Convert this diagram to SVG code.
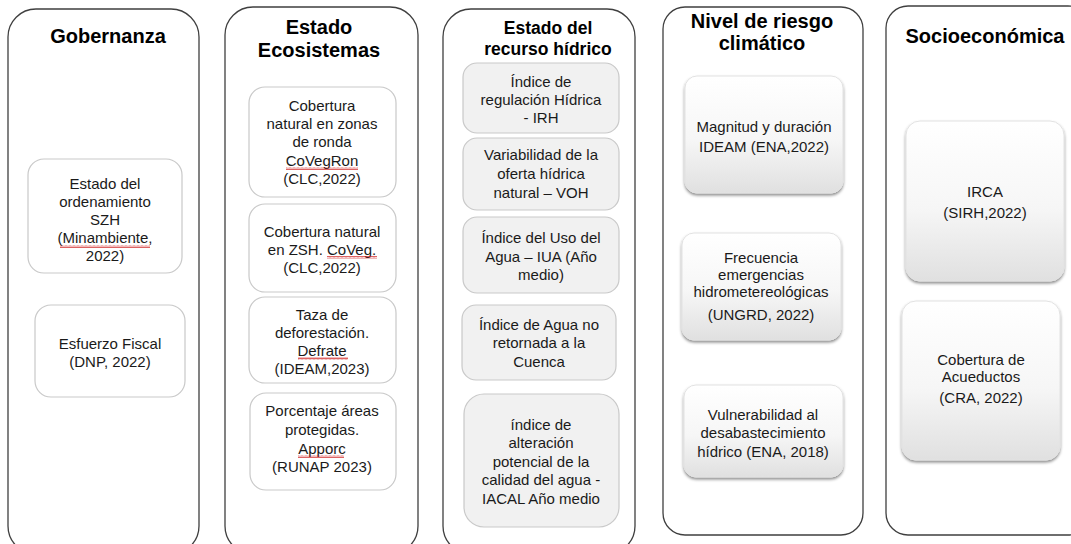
<svg xmlns="http://www.w3.org/2000/svg" width="1071" height="544" viewBox="0 0 1071 544">
<style>
.col{fill:#ffffff;stroke:#3f3f3f;stroke-width:1.3}
.wbox{fill:#ffffff;stroke:#c9c9c9;stroke-width:1.2}
.gbox{fill:#f1f1f1;stroke:#c9c9c9;stroke-width:1.2}
.sbox{fill:url(#grad);stroke:#e2e2e2;stroke-width:1;filter:url(#shadow)}
.title{font-family:"Liberation Sans",Arial,sans-serif;font-weight:bold;font-size:20px;fill:#000;text-anchor:middle}
.t3{font-size:17.5px}
.body{font-family:"Liberation Sans",Arial,sans-serif;font-size:15px;fill:#1a1a1a;text-anchor:middle}
.sq{fill:url(#squig)}
</style>
<defs>
<linearGradient id="grad" x1="0" y1="0" x2="0" y2="1">
<stop offset="0" stop-color="#ffffff"/>
<stop offset="0.55" stop-color="#f6f6f6"/>
<stop offset="1" stop-color="#e0e0e0"/>
</linearGradient>
<filter id="shadow" x="-10%" y="-10%" width="120%" height="130%">
<feDropShadow dx="0" dy="2" stdDeviation="1.8" flood-color="#000" flood-opacity="0.45"/>
</filter>
<pattern id="squig" x="0" y="0" width="4" height="3" patternUnits="userSpaceOnUse">
<polyline points="0,2.5 1,0.5 2,2.5 3,0.5 4,2.5" fill="none" stroke="#d02020" stroke-width="0.7"/>
</pattern>
</defs>

<g id="col-gobernanza">
<rect class="col" x="8" y="9" width="191" height="545" rx="28"/>
<text class="title" x="108" y="43">Gobernanza</text>
</g>
<g id="node-ordenamiento">
<rect class="wbox" x="28" y="159" width="154" height="114" rx="16"/>
<text class="body" x="105" y="189">Estado del</text>
<text class="body" x="105" y="207">ordenamiento</text>
<text class="body" x="105" y="225">SZH</text>
<text class="body" x="105" y="243">(Minambiente,</text>
<text class="body" x="105" y="261">2022)</text>
<rect class="sq" x="60" y="245" width="90" height="3"/>
</g>
<g id="node-esfuerzo">
<rect class="wbox" x="35" y="305" width="150" height="92" rx="16"/>
<text class="body" x="110" y="349">Esfuerzo Fiscal</text>
<text class="body" x="110" y="367">(DNP, 2022)</text>
</g>

<g id="col-ecosistemas">
<rect class="col" x="225" y="7" width="193" height="547" rx="28"/>
<text class="title" x="319" y="34">Estado</text>
<text class="title" x="319" y="57">Ecosistemas</text>
</g>
<g id="node-covegron">
<rect class="wbox" x="249" y="87" width="147" height="110" rx="16"/>
<text class="body" x="322" y="111">Cobertura</text>
<text class="body" x="322" y="129">natural en zonas</text>
<text class="body" x="322" y="147">de ronda</text>
<text class="body" x="322" y="166">CoVegRon</text>
<text class="body" x="322" y="184">(CLC,2022)</text>
<rect class="sq" x="286" y="167" width="72" height="3"/>
</g>
<g id="node-coveg">
<rect class="wbox" x="249" y="204" width="147" height="88" rx="16"/>
<text class="body" x="322" y="237">Cobertura natural</text>
<text class="body" x="322" y="255">en ZSH. CoVeg.</text>
<text class="body" x="322" y="273">(CLC,2022)</text>
<rect class="sq" x="327" y="256" width="50" height="3"/>
</g>
<g id="node-defrate">
<rect class="wbox" x="249" y="297" width="147" height="86" rx="16"/>
<text class="body" x="322" y="320">Taza de</text>
<text class="body" x="322" y="338">deforestación.</text>
<text class="body" x="322" y="356">Defrate</text>
<text class="body" x="322" y="374">(IDEAM,2023)</text>
<rect class="sq" x="298" y="357" width="50" height="3"/>
</g>
<g id="node-apporc">
<rect class="wbox" x="250" y="393" width="146" height="97" rx="16"/>
<text class="body" x="322" y="416">Porcentaje áreas</text>
<text class="body" x="322" y="435">protegidas.</text>
<text class="body" x="322" y="454">Apporc</text>
<text class="body" x="322" y="472">(RUNAP 2023)</text>
<rect class="sq" x="298" y="455" width="46" height="3"/>
</g>

<g id="col-hidrico">
<rect class="col" x="443" y="9" width="192" height="545" rx="28"/>
<text class="title t3" x="548" y="34">Estado del</text>
<text class="title t3" x="548" y="55">recurso hídrico</text>
</g>
<g id="node-irh">
<rect class="gbox" x="463" y="63" width="156" height="70" rx="14"/>
<text class="body" x="541" y="87">Índice de</text>
<text class="body" x="541" y="105">regulación Hídrica</text>
<text class="body" x="541" y="123">- IRH</text>
</g>
<g id="node-voh">
<rect class="gbox" x="463" y="138" width="156" height="72" rx="14"/>
<text class="body" x="541" y="160">Variabilidad de la</text>
<text class="body" x="541" y="179">oferta hídrica</text>
<text class="body" x="541" y="198">natural – VOH</text>
</g>
<g id="node-iua">
<rect class="gbox" x="463" y="217" width="156" height="76" rx="14"/>
<text class="body" x="541" y="243">Índice del Uso del</text>
<text class="body" x="541" y="262">Agua – IUA (Año</text>
<text class="body" x="541" y="280">medio)</text>
</g>
<g id="node-agua-no-retornada">
<rect class="gbox" x="462" y="305" width="154" height="75" rx="14"/>
<text class="body" x="539" y="330">Índice de Agua no</text>
<text class="body" x="539" y="348">retornada a la</text>
<text class="body" x="539" y="367">Cuenca</text>
</g>
<g id="node-iacal">
<rect class="gbox" x="464" y="394" width="155" height="133" rx="20"/>
<text class="body" x="541" y="430">índice de</text>
<text class="body" x="541" y="448">alteración</text>
<text class="body" x="541" y="467">potencial de la</text>
<text class="body" x="541" y="485">calidad del agua -</text>
<text class="body" x="541" y="504">IACAL Año medio</text>
</g>

<g id="col-riesgo">
<rect class="col" x="663" y="7" width="200" height="528" rx="22"/>
<text class="title" x="762" y="28">Nivel de riesgo</text>
<text class="title" x="762" y="50">climático</text>
</g>
<g id="node-magnitud">
<rect class="sbox" x="685" y="76" width="158" height="117" rx="12"/>
<text class="body" x="764" y="132">Magnitud y duración</text>
<text class="body" x="764" y="152">IDEAM (ENA,2022)</text>
</g>
<g id="node-frecuencia">
<rect class="sbox" x="682" y="233" width="159" height="107" rx="12"/>
<text class="body" x="761" y="263">Frecuencia</text>
<text class="body" x="761" y="280">emergencias</text>
<text class="body" x="761" y="297">hidrometereológicas</text>
<text class="body" x="761" y="320">(UNGRD, 2022)</text>
</g>
<g id="node-vulnerabilidad">
<rect class="sbox" x="684" y="385" width="159" height="92" rx="12"/>
<text class="body" x="763" y="420">Vulnerabilidad al</text>
<text class="body" x="763" y="438">desabastecimiento</text>
<text class="body" x="763" y="457">hídrico (ENA, 2018)</text>
</g>

<g id="col-socioeconomica">
<rect class="col" x="886" y="6" width="204" height="529" rx="22"/>
<text class="title" x="985" y="43">Socioeconómica</text>
</g>
<g id="node-irca">
<rect class="sbox" x="906" y="121" width="158" height="160" rx="14"/>
<text class="body" x="985" y="197">IRCA</text>
<text class="body" x="985" y="218">(SIRH,2022)</text>
</g>
<g id="node-acueductos">
<rect class="sbox" x="902" y="301" width="158" height="159" rx="14"/>
<text class="body" x="981" y="365">Cobertura de</text>
<text class="body" x="981" y="382">Acueductos</text>
<text class="body" x="981" y="403">(CRA, 2022)</text>
</g>

<g id="connectors"></g>
</svg>
